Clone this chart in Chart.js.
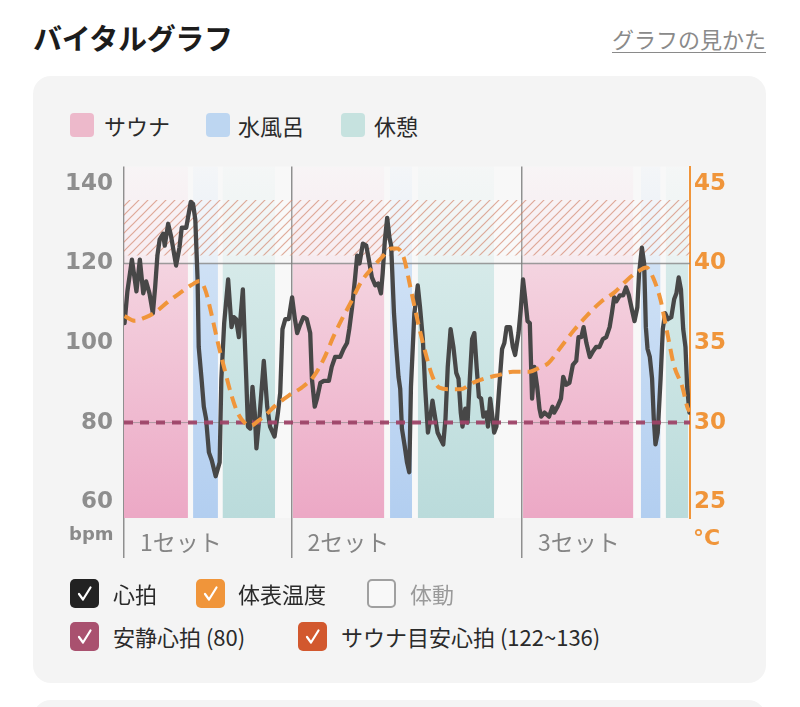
<!DOCTYPE html>
<html><head><meta charset="utf-8">
<script src="https://cdn.jsdelivr.net/npm/chart.js@4.4.1/dist/chart.umd.min.js"></script>
<style>
body{margin:0;width:800px;height:707px;overflow:hidden;background:#fff;position:relative;font-family:"Noto Sans CJK JP","Noto Sans",sans-serif;color:#2a2a2a}
.abs{position:absolute}
.title{left:33px;top:20px;font-size:29px;font-weight:700;line-height:34px;color:#1c1c1c;letter-spacing:-0.3px}
.link{right:34px;top:24px;font-size:22px;line-height:28px;color:#8a8a8a;text-decoration:underline;text-underline-offset:4px;text-decoration-thickness:1px}
.card{left:33px;top:76px;width:733px;height:607px;border-radius:18px;background:#f4f4f4}
.card2{left:33px;top:700px;width:733px;height:60px;border-radius:18px;background:#f4f4f4}
.sw{width:24px;height:24px;border-radius:4px}
.lt{font-size:22px;line-height:26px}
.cb{width:29px;height:29px;border-radius:5px;box-sizing:border-box}
.cb svg{display:block}
.axl{font-family:"DejaVu Sans",sans-serif;font-weight:700}
#c{left:33px;top:144px}
</style></head><body>
<div class="abs title">バイタルグラフ</div>
<div class="abs link">グラフの見かた</div>
<div class="abs card"></div>
<div class="abs card2"></div>

<div class="abs sw" style="left:70px;top:113px;background:#edb9cb"></div>
<div class="abs lt" style="left:104px;top:112px">サウナ</div>
<div class="abs sw" style="left:206px;top:113px;background:#bdd6f1"></div>
<div class="abs lt" style="left:238px;top:112px">水風呂</div>
<div class="abs sw" style="left:341px;top:113px;background:#c6e2df"></div>
<div class="abs lt" style="left:374px;top:112px">休憩</div>

<canvas id="c" class="abs" width="734" height="426"></canvas>

<div class="abs axl" style="left:69px;top:523px;font-size:18px;color:#8a8a8a">bpm</div>
<div class="abs axl" style="left:693px;top:525px;font-size:22px;color:#f0953a">°C</div>

<div class="abs cb" style="left:70px;top:579px;background:#222"><svg width="29" height="29"><path d="M9 15 L13 20.5 L20.5 8.5" stroke="#fff" stroke-width="2.2" fill="none" stroke-linecap="round" stroke-linejoin="round"/></svg></div>
<div class="abs lt" style="left:113px;top:580px">心拍</div>
<div class="abs cb" style="left:196px;top:579px;background:#f0953a"><svg width="29" height="29"><path d="M9 15 L13 20.5 L20.5 8.5" stroke="#fff" stroke-width="2.2" fill="none" stroke-linecap="round" stroke-linejoin="round"/></svg></div>
<div class="abs lt" style="left:238px;top:580px">体表温度</div>
<div class="abs cb" style="left:367px;top:579px;border:2px solid #a0a0a0;background:#f8f8f8"></div>
<div class="abs lt" style="left:410px;top:580px;color:#9a9a9a">体動</div>

<div class="abs cb" style="left:70px;top:622px;background:#a9516f"><svg width="29" height="29"><path d="M9 15 L13 20.5 L20.5 8.5" stroke="#fff" stroke-width="2.2" fill="none" stroke-linecap="round" stroke-linejoin="round"/></svg></div>
<div class="abs lt" style="left:113px;top:623px">安静心拍 (80)</div>
<div class="abs cb" style="left:298px;top:622px;background:#d2582e"><svg width="29" height="29"><path d="M9 15 L13 20.5 L20.5 8.5" stroke="#fff" stroke-width="2.2" fill="none" stroke-linecap="round" stroke-linejoin="round"/></svg></div>
<div class="abs lt" style="left:341px;top:623px">サウナ目安心拍 (122~136)</div>

<script>
// ---- data (time in minutes) ----
const SET_T = [0, 29.6, 70.3];
const SET_LABELS = ['1セット', '2セット', '3セット'];

const BAND_START = [0, 12.2, 17.4, 29.8, 47.0, 51.9, 70.5, 91.3, 95.7];
const BAND_END   = [11.3, 16.6, 26.7, 46.0, 50.9, 65.4, 90.0, 94.8, 99.7];
const BAND_KIND  = ['sauna', 'cold', 'rest', 'sauna', 'cold', 'rest', 'sauna', 'cold', 'rest'];

const HR_T = [0.1,0.6,1.4,1.9,2.2,2.8,3.4,3.9,4.5,5.1,
  5.5,5.9,6.3,6.9,7.2,7.8,8.3,9.2,9.8,10.2,
  11.0,11.3,11.8,12.2,12.6,13.0,13.2,13.7,14.1,14.5,
  15.0,15.5,16.2,16.9,17.2,17.7,18.4,19.0,19.4,19.8,
  20.3,21.0,21.6,21.9,22.3,22.7,23.1,23.4,24.0,24.7,
  25.3,25.8,26.6,27.2,27.6,28.0,28.5,29.1,29.7,30.2,
  30.6,31.1,31.7,32.3,32.9,33.2,33.7,34.1,34.7,35.3,
  36.2,36.7,37.3,38.2,38.8,39.4,39.8,40.3,40.8,41.2,
  41.6,42.2,42.8,43.2,43.8,44.4,44.9,45.4,45.7,46.1,
  46.5,46.9,47.2,47.7,48.1,48.5,48.8,49.1,49.6,50.0,
  50.4,50.7,51.3,51.9,52.3,52.8,53.2,53.7,54.1,54.5,
  55.0,55.4,55.9,56.4,56.8,57.2,57.7,58.2,58.7,59.1,
  59.5,59.8,60.3,60.7,61.1,61.5,61.9,62.3,62.7,63.1,
  63.5,64.0,64.3,64.7,65.0,65.4,65.8,66.3,66.8,67.2,
  67.6,68.2,68.7,69.1,69.7,70.1,70.5,70.9,71.3,71.7,
  72.1,72.5,73.0,73.4,73.7,74.3,75.1,75.7,76.0,76.6,
  77.2,77.6,78.1,78.7,79.3,79.9,80.3,80.8,81.2,81.7,
  82.3,82.9,83.4,84.0,84.6,85.2,85.8,86.2,86.6,87.0,
  87.6,88.2,88.7,89.2,89.8,90.2,90.7,91.0,91.5,91.9,
  92.2,92.5,92.9,93.3,93.6,93.9,94.3,94.8,95.2,95.6,
  96.1,96.7,97.2,97.6,98.0,98.4,98.8,99.2,99.5,99.9];
const HR_BPM = [105,113,121,116,113,121,112.5,115.5,112.5,107.5,
  114,122,126,127.5,124.5,130,127,119.5,124,129,
  129,131.5,135.5,135,131,116,99,91,84,81,
  72.5,70.5,66.5,70,91,105,116,104,106.5,106,
  101.5,113.5,91,79,78.5,89,82.5,73.5,82.5,95.5,
  84,79,76.5,82.5,87.5,103.5,106,106,111.5,106,
  102.5,104.5,106.5,106,102.5,91,84,86,90,90.5,
  90.5,94,96.5,96.5,98.5,100,103.5,109,116,122,
  120,125,124.5,121.5,116.5,114.5,115,112.5,117.5,126,
  131.5,126.5,124.5,107.5,99,91.5,88.5,78.5,74,70,
  67.5,89,107.5,114.5,109,101,89,77.5,81,85.5,
  81,77.5,76,74.5,81,94,103.5,99,92.5,91,
  82.5,79,83.5,80,91,101,102.5,94,86.5,86,
  81.5,82.5,79,86,82.5,77.5,79,89,98.5,100,
  104,104,99,97,102.5,108.5,116,111,105.5,105,
  86,94,89,83.5,81.5,82.5,81.5,84,82.5,84,
  86,91.5,89.5,90,94.5,95.5,101.5,101.5,104,100,
  96.5,98,99,99,101,101.5,104,107.5,111.5,110.5,
  112,112,114,112,108,105.5,109,117.5,124,120,
  104,98.5,96.5,91,81,74.5,77.5,91,103.5,107.5,
  106,106.5,111,112.5,116.5,113.5,103.5,99,89,82.5];

const TEMP_T = [0.1,1.9,3.7,5.4,7.8,10.1,11.9,13.4,14.4,15.4,
  16.6,17.8,19.0,20.1,21.3,22.4,23.7,25.1,26.7,29.1,
  31.4,33.5,35.3,37.0,38.5,40.0,42.0,43.8,45.6,47.3,
  48.2,49.4,50.6,52.1,53.4,54.5,55.7,57.5,59.5,61.6,
  64.0,66.3,68.7,71.6,73.4,75.0,77.3,79.6,82.0,84.3,
  86.7,89.0,90.8,92.3,93.5,94.8,96.0,97.2,98.6,99.6,100];
const TEMP_C = [36.7,36.4,36.6,36.9,37.6,38.2,38.65,38.9,38.3,36.9,
  35.0,33.3,31.7,30.6,30.0,29.8,30.1,30.5,31.05,31.7,
  32.2,32.9,34.0,35.4,36.5,37.5,38.9,39.7,40.4,40.95,
  40.95,40.4,38.5,36.05,34.2,32.9,32.2,32.1,32.1,32.5,
  32.8,33.0,33.2,33.2,33.45,33.75,34.8,35.85,36.8,37.6,
  38.2,39.0,39.5,39.75,39.1,37.7,35.6,33.55,32.3,30.9,30.7];

const BPM_TICKS = [60, 80, 100, 120, 140];
const TEMP_TICKS = [25, 30, 35, 40, 45];
const REST_HR = 80;
const ZONE_LOW = 122, ZONE_HIGH = 136;
const GRID_BPM = 120;
const T_MIN = 0, T_MAX = 100;
const BPM_MIN = 56, BPM_MAX = 144.4;
const TEMP_MIN = 24, TEMP_MAX = 46.1;

// ---- styles ----
const KIND_COLORS = {
  sauna: {bottom: [236,168,197], top: [244,212,224]},
  cold:  {bottom: [178,206,240], top: [207,225,245]},
  rest:  {bottom: [186,219,219], top: [214,234,233]}
};
const rgba = (c, a) => `rgba(${c[0]},${c[1]},${c[2]},${a})`;
function bandFill(kind) {
  const c = KIND_COLORS[kind];
  return (ctx) => {
    const chart = ctx.chart, ca = chart.chartArea;
    if (!ca) return rgba(c.top, 1);
    const ys = chart.scales.y;
    const g = chart.ctx.createLinearGradient(0, ca.bottom, 0, ca.top);
    const f = Math.min(1, Math.max(0, (ca.bottom - ys.getPixelForValue(GRID_BPM)) / (ca.bottom - ca.top)));
    g.addColorStop(0, rgba(c.bottom, 1));
    g.addColorStop(f, rgba(c.top, 1));
    g.addColorStop(f, rgba(c.top, 0.4));
    g.addColorStop(1, rgba(c.top, 0.1));
    return g;
  };
}
function hatchPattern() {
  const n = 9;
  const p = document.createElement('canvas');
  p.width = n; p.height = n;
  const x = p.getContext('2d');
  x.fillStyle = 'rgba(255,255,255,0.15)';
  x.fillRect(0, 0, n, n);
  x.strokeStyle = 'rgba(208,122,96,0.62)';
  x.lineWidth = 1.2;
  x.beginPath();
  x.moveTo(0, n); x.lineTo(n, 0);
  x.moveTo(-1, 1); x.lineTo(1, -1);
  x.moveTo(n - 1, n + 1); x.lineTo(n + 1, n - 1);
  x.stroke();
  return x.createPattern(p, 'repeat');
}

const pts = (xs, ys) => xs.slice(0, Math.min(xs.length, ys.length)).map((t, i) => ({x: t, y: ys[i]}));
const hline = (v) => [{x: T_MIN, y: v}, {x: T_MAX, y: v}];

const datasets = [
  {label: '体表温度', data: pts(TEMP_T, TEMP_C), yAxisID: 'y2', borderColor: '#f0953a', borderWidth: 4,
   borderDash: [12, 7], cubicInterpolationMode: 'monotone', pointRadius: 0, fill: false, order: 0},
  {label: '安静心拍', data: hline(REST_HR), borderColor: 'rgba(158,68,104,0.95)', borderWidth: 4,
   borderDash: [9, 7], pointRadius: 0, fill: false, order: 1},
  {label: '心拍', data: pts(HR_T, HR_BPM), borderColor: '#474747', borderWidth: 4.3, tension: 0,
   borderJoinStyle: 'round', borderCapStyle: 'round', pointRadius: 0, fill: false, order: 2},
  {label: 'grid80', data: hline(REST_HR), borderColor: 'rgba(130,130,130,0.6)', borderWidth: 1, pointRadius: 0, fill: false, order: 3},
  {label: 'grid120', data: hline(GRID_BPM), borderColor: 'rgba(125,125,125,0.75)', borderWidth: 1.5, pointRadius: 0, fill: false, order: 4},
  {label: 'zone', data: hline(ZONE_HIGH), borderWidth: 0, borderColor: 'rgba(0,0,0,0)', pointRadius: 0,
   fill: {value: ZONE_LOW}, backgroundColor: hatchPattern(), order: 5}
];
BAND_START.forEach((s, i) => {
  datasets.push({label: 'band' + i, data: [{x: s, y: BPM_MAX}, {x: BAND_END[i], y: BPM_MAX}],
    borderWidth: 0, borderColor: 'rgba(0,0,0,0)', pointRadius: 0, fill: 'start',
    backgroundColor: bandFill(BAND_KIND[i]), order: 10 + i});
});

const plotBg = {
  id: 'plotBg',
  beforeDraw(chart) {
    const {ctx, chartArea: a} = chart;
    ctx.save();
    ctx.fillStyle = '#f8f8f8';
    ctx.fillRect(a.left, a.top, a.right - a.left, a.bottom - a.top);
    ctx.restore();
  }
};

const tickFont = {family: '"DejaVu Sans", sans-serif', size: 23, weight: 'bold', lineHeight: 1};

new Chart(document.getElementById('c'), {
  type: 'line',
  data: {datasets},
  plugins: [plotBg],
  options: {
    responsive: false,
    animation: false,
    devicePixelRatio: 1,
    layout: {padding: {top: 22, left: 0, right: 0, bottom: 0}},
    plugins: {legend: {display: false}, tooltip: {enabled: false}},
    scales: {
      x: {
        type: 'linear', min: T_MIN, max: T_MAX,
        afterBuildTicks: (s) => { s.ticks = SET_T.map(v => ({value: v})); },
        afterFit: (s) => { s.height = 52; },
        ticks: {
          callback: (v, i) => SET_LABELS[i],
          align: 'start', labelOffset: 16, padding: -30, maxRotation: 0, autoSkip: false,
          color: '#858585', font: {family: '"Noto Sans CJK JP", sans-serif', size: 23}
        },
        grid: {display: true, drawOnChartArea: true, drawTicks: true, tickLength: 40, color: '#8f8f8f', lineWidth: 1.5},
        border: {display: false}
      },
      y: {
        position: 'left', min: BPM_MIN, max: BPM_MAX,
        afterBuildTicks: (s) => { s.ticks = BPM_TICKS.map(v => ({value: v})); },
        afterFit: (s) => { s.width = 91; },
        ticks: {padding: 11, color: '#8e8e8e', font: tickFont},
        grid: {display: false, drawTicks: false},
        border: {display: false}
      },
      y2: {
        position: 'right', min: TEMP_MIN, max: TEMP_MAX,
        afterBuildTicks: (s) => { s.ticks = TEMP_TICKS.map(v => ({value: v})); },
        afterFit: (s) => { s.width = 77; },
        ticks: {padding: 4, color: '#f0953a', font: tickFont},
        grid: {display: true, drawOnChartArea: false, drawTicks: false, color: 'rgba(0,0,0,0)'},
        border: {display: true, color: '#f0953a', width: 2}
      }
    }
  }
});
</script>
</body></html>
